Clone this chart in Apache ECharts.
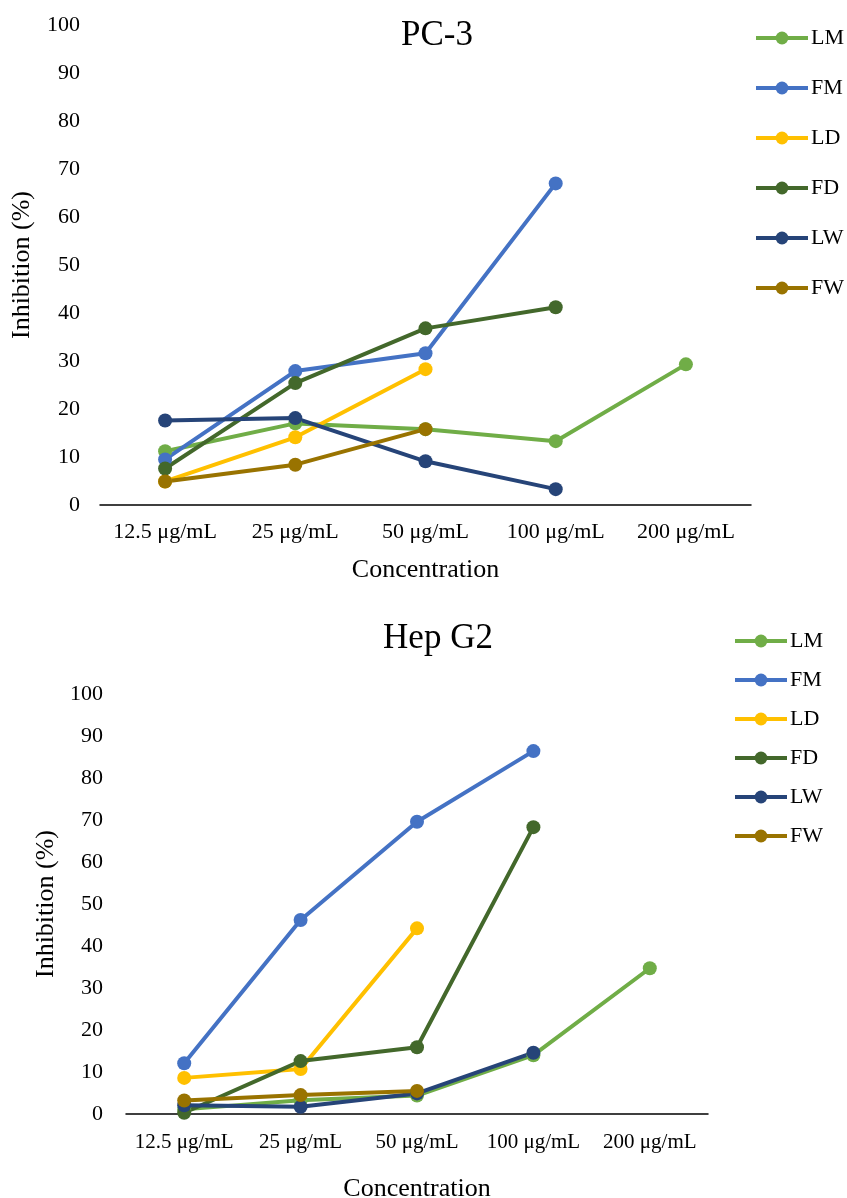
<!DOCTYPE html>
<html>
<head>
<meta charset="utf-8">
<script src="https://cdn.jsdelivr.net/npm/echarts@6/dist/echarts.min.js"></script>
<style>
  html, body { margin: 0; padding: 0; background: #fff; }
  #main { width: 847px; height: 1198px; }
</style>
</head>
<body>
<div id="main"></div>
<script>
var categories = ['12.5 μg/mL', '25 μg/mL', '50 μg/mL', '100 μg/mL', '200 μg/mL'];
var seriesNames = ['LM', 'FM', 'LD', 'FD', 'LW', 'FW'];
var colors = ['#70ad47', '#4472c4', '#ffc000', '#43682b', '#264478', '#997300'];

// PC-3
var pc3LM = [11.2, 17.0, 15.8, 13.3, 29.3];
var pc3FM = [9.5, 27.9, 31.6, 67.0, null];
var pc3LD = [4.9, 14.1, 28.3, null, null];
var pc3FD = [7.6, 25.4, 36.8, 41.2, null];
var pc3LW = [17.6, 18.1, 9.1, 3.3, null];
var pc3FW = [4.9, 8.4, 15.8, null, null];

// Hep G2
var hepLM = [1.1, 3.3, 4.4, 14.0, 34.7];
var hepFM = [12.1, 46.2, 69.6, 86.4, null];
var hepLD = [8.6, 10.7, 44.2, null, null];
var hepFD = [0.3, 12.6, 15.9, 68.3, null];
var hepLW = [2.1, 1.7, 4.9, 14.6, null];
var hepFW = [3.2, 4.5, 5.5, null, null];

var pc3Data = [pc3LM, pc3FM, pc3LD, pc3FD, pc3LW, pc3FW];
var hepData = [hepLM, hepFM, hepLD, hepFD, hepLW, hepFW];

var font = 'Liberation Serif';

var myChart = echarts.init(document.getElementById('main'));

function xAxisFor(idx, gap, margin, labelSize) {
    return {
        type: 'category',
        gridIndex: idx,
        data: categories,
        name: 'Concentration',
        nameLocation: 'middle',
        nameGap: gap,
        nameTextStyle: { fontFamily: font, fontSize: 26, color: '#000' },
        axisLine: { lineStyle: { color: '#000', width: 1.5 } },
        axisTick: { show: false },
        axisLabel: { interval: 0, fontFamily: font, fontSize: labelSize, color: '#000', margin: margin }
    };
}

function yAxisFor(idx, gap, margin) {
    return {
        type: 'value',
        gridIndex: idx,
        min: 0,
        max: 100,
        interval: 10,
        name: 'Inhibition (%)',
        nameLocation: 'middle',
        nameGap: gap,
        nameTextStyle: { fontFamily: font, fontSize: 26, color: '#000' },
        axisLine: { show: false },
        axisTick: { show: false },
        splitLine: { show: false },
        axisLabel: { fontFamily: font, fontSize: 22, color: '#000', margin: margin }
    };
}

var series = [];
seriesNames.forEach(function (n, i) {
    series.push({
        name: n, type: 'line', xAxisIndex: 0, yAxisIndex: 0,
        data: pc3Data[i], symbol: 'circle', symbolSize: 14,
        lineStyle: { width: 4, color: colors[i] },
        itemStyle: { color: colors[i] }
    });
});
seriesNames.forEach(function (n, i) {
    series.push({
        name: n, type: 'line', xAxisIndex: 1, yAxisIndex: 1,
        data: hepData[i], symbol: 'circle', symbolSize: 14,
        lineStyle: { width: 4, color: colors[i] },
        itemStyle: { color: colors[i] }
    });
});

var legendText = { fontFamily: font, fontSize: 22, color: '#000', padding: [0, 0, 0, -2] };

myChart.setOption({
    animation: false,
    color: colors,
    title: [
        { text: 'PC-3', left: 432, top: 13, textAlign: 'center',
          textStyle: { fontFamily: font, fontSize: 35, fontWeight: 'normal', color: '#000' } },
        { text: 'Hep G2', left: 433, top: 616, textAlign: 'center',
          textStyle: { fontFamily: font, fontSize: 35, fontWeight: 'normal', color: '#000' } }
    ],
    legend: [
        { data: seriesNames, orient: 'vertical', left: 749, top: 22,
          itemWidth: 52, itemHeight: 16, itemGap: 28,
          lineStyle: { width: 4 }, textStyle: legendText },
        { data: seriesNames, orient: 'vertical', left: 728, top: 625,
          itemWidth: 52, itemHeight: 16, itemGap: 17,
          lineStyle: { width: 4 }, textStyle: legendText }
    ],
    grid: [
        { left: 100, right: 96, top: 25, bottom: 693, outerBoundsMode: 'none' },
        { left: 126, right: 139, top: 694, bottom: 84, outerBoundsMode: 'none' }
    ],
    xAxis: [xAxisFor(0, 52, 16, 22), xAxisFor(1, 62, 18, 21)],
    yAxis: [yAxisFor(0, 65, 20), yAxisFor(1, 67, 23)],
    series: series
});
</script>
</body>
</html>
